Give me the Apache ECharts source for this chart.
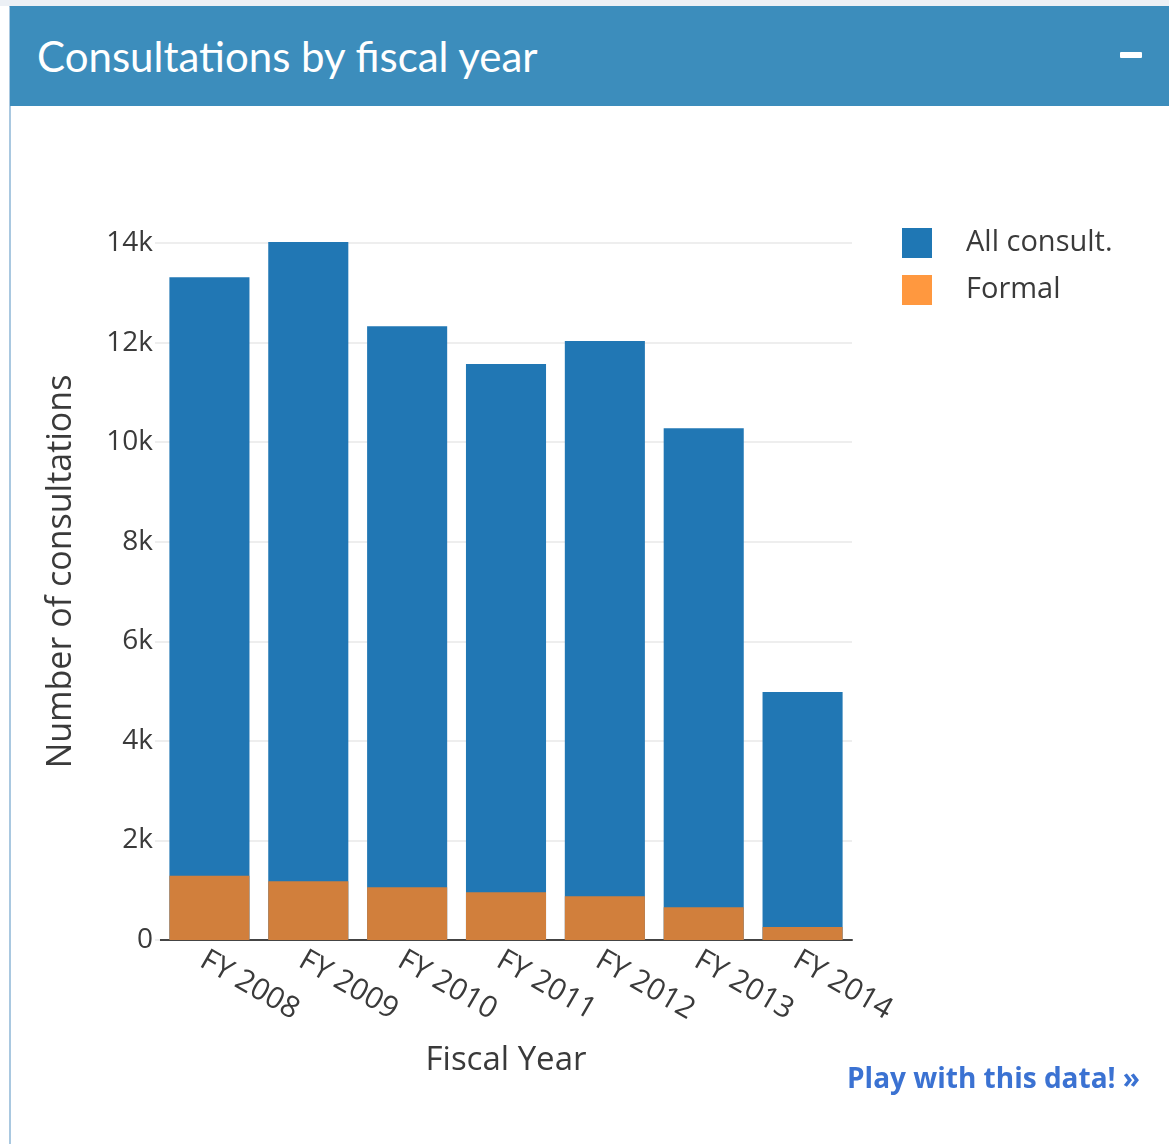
<!DOCTYPE html>
<html>
<head>
<meta charset="utf-8">
<script src="https://cdn.jsdelivr.net/npm/echarts@6/dist/echarts.min.js"></script>
<style>
  html, body { margin: 0; padding: 0; background: #fff; }
  body { width: 1169px; height: 1144px; position: relative; overflow: hidden; font-family: "Open Sans", sans-serif; }
  #topband { position: absolute; left: 0; top: 0; width: 1169px; height: 6px; background: #ecf0f5; }
  #panel { position: absolute; left: 9px; top: 6px; width: 1170px; height: 1150px; border-left: 2px solid #a9c8e0; border-top: 1px solid #3c8dbc; }
  #header { position: absolute; left: 10px; top: 6px; width: 1159px; height: 100px; background: #3c8dbc; }
  #header .title { position: absolute; left: 27px; top: 25px; color: #fff; font-family: Lato, sans-serif; font-size: 42px; line-height: 50px; }
  #header .minus { position: absolute; left: 1110px; top: 46px; width: 22px; height: 6px; background: #fff; border-radius: 1px; }
  #chart { position: absolute; left: 0; top: 0; width: 1169px; height: 1144px; }
  #play { position: absolute; left: 847px; top: 1058px; color: #3b72d2; font-weight: bold; font-size: 28px; text-decoration: none; font-family: "Open Sans", sans-serif; }
</style>
</head>
<body>
<div id="topband"></div>
<div id="panel"></div>
<div id="chart"></div>
<div id="header"><div class="title">Consultations by fiscal year</div><div class="minus"></div></div>
<a id="play" href="#">Play with this data! &raquo;</a>
<script>
// values
const years = ['FY 2008', 'FY 2009', 'FY 2010', 'FY 2011', 'FY 2012', 'FY 2013', 'FY 2014'];
const allConsult = [13310, 14020, 12330, 11570, 12030, 10280, 4980];
const formal = [1290, 1180, 1060, 960, 880, 660, 260];

const chart = echarts.init(document.getElementById('chart'));
const font = '"Open Sans", sans-serif';
const ink = '#3a3a3a';

chart.setOption({
  animation: false,
  textStyle: { fontFamily: font },
  grid: { left: 160, right: 317, top: 243, bottom: 204, containLabel: false },
  legend: {
    left: 897, top: 223,
    orient: 'vertical',
    itemWidth: 30, itemHeight: 30, itemGap: 17,
    icon: 'rect',
    textStyle: { fontSize: 29, color: ink, padding: [0, 0, 0, 29] },
    data: [
      { name: 'All consult.', itemStyle: { color: '#1f77b4' } },
      { name: 'Formal', itemStyle: { color: '#ff983f' } }
    ]
  },
  xAxis: {
    type: 'category',
    data: years,
    name: 'Fiscal Year',
    nameLocation: 'middle',
    nameGap: 104,
    nameTextStyle: { fontSize: 33, color: ink },
    axisLine: { lineStyle: { color: '#444', width: 2 } },
    axisTick: { show: false },
    axisLabel: { rotate: -30, fontSize: 30, color: ink, margin: 22, padding: [0, 0, 0, -8] }
  },
  yAxis: {
    type: 'value',
    min: 0, max: 14000, interval: 2000,
    name: 'Number of consultations',
    nameLocation: 'middle',
    nameGap: 82,
    nameTextStyle: { fontSize: 34, color: ink, padding: [0, 0, 0, 40] },
    axisLine: { show: false },
    axisTick: { show: true, length: 5, lineStyle: { color: '#eeeeee', width: 2 } },
    splitLine: { lineStyle: { color: '#eeeeee', width: 2 } },
    axisLabel: {
      fontSize: 28, color: ink, margin: 7, padding: [8, 0, 0, 0],
      formatter: v => v === 0 ? '0' : (v / 1000) + 'k'
    }
  },
  series: [
    {
      name: 'All consult.', type: 'bar', data: allConsult,
      barCategoryGap: '19%', barGap: '-100%', clip: false,
      itemStyle: { color: '#2177b4' }
    },
    {
      name: 'Formal', type: 'bar', data: formal,
      barCategoryGap: '19%', barGap: '-100%',
      itemStyle: { color: '#d17f3c' }
    }
  ]
});
</script>
</body>
</html>
